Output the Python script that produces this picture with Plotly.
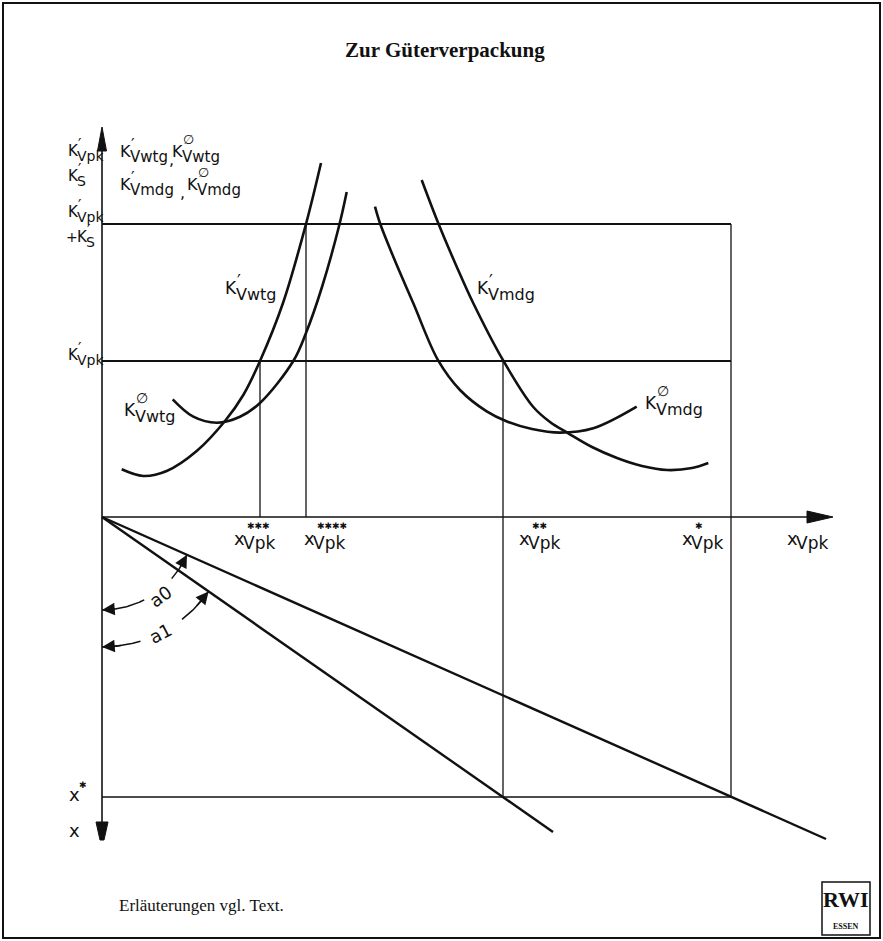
import math
import plotly.graph_objects as go

# ---------------- data (1 unit = 1 px of the original) ----------------
K_VPK = 156            # level K'_Vpk
K_VPK_S = 293          # level K'_Vpk + K'_S
X_3STAR = 158          # x***_Vpk
X_4STAR = 204          # x****_Vpk
X_2STAR = 401          # x**_Vpk
X_1STAR = 629          # x*_Vpk
X_STAR_DOWN = -280     # x* on the downward x axis
Y_AXIS_TOP = 390
X_AXIS_END = 731
DOWN_AXIS_END = -323

# K'_Vwtg (marginal, weight-dependent)
wtg_marg_x = [19.7, 41.3, 64.7, 94.7, 123, 141.3, 158, 181, 204, 219]
wtg_marg_y = [47.7, 41, 46, 66, 96, 122, 156, 214, 293, 354]
# K^0_Vwtg (average, weight-dependent)
wtg_avg_x = [70.7, 91.3, 114.7, 138, 158, 191.3, 204, 220, 237.3, 244.7]
wtg_avg_y = [117.7, 100.3, 94.3, 100.3, 114, 156, 184, 230, 292, 325]
# K'_Vmdg (marginal, volume-dependent)
mdg_marg_x = [319.7, 336.3, 354.7, 371.3, 401.3, 431.3, 448, 466.3, 490, 515, 540, 565, 590, 606.3]
mdg_marg_y = [337, 293.7, 250.3, 213.7, 156.3, 110, 95, 83.7, 70, 59, 51, 47, 49, 54]
# K^0_Vmdg (average, volume-dependent)
mdg_avg_x = [273, 278, 291.3, 311.3, 336.3, 358, 384.7, 405, 430, 458, 491.3, 534.7]
mdg_avg_y = [310.3, 293.7, 260.3, 213.7, 156.3, 127, 105.6, 95.5, 88, 84.4, 88.7, 110.3]

# rays in the lower quadrant (angles a0, a1)
ray_a0_x = [0, 724]
ray_a0_y = [0, -322]
ray_a1_x = [0, 451]
ray_a1_y = [0, -315]
ARC_A0_R = 93
ARC_A1_R = 130
ARC_A0_GAP = (-63, -41.5)     # degrees, where the label "a0" sits
ARC_A1_GAP = (-72.8, -52)

INK = "#111111"
LBL_FONT = "DejaVu Sans"
SERIF = "Liberation Serif"

W, H = 883, 941
OX, OY = 102, 517   # pixel position of the origin

fig = go.Figure()


def line(xs, ys, width=1.6, shape="linear"):
    fig.add_trace(go.Scatter(x=xs, y=ys, mode="lines", hoverinfo="skip", showlegend=False,
                             line=dict(color=INK, width=width, shape=shape, smoothing=1.0)))


def poly(xs, ys):
    fig.add_trace(go.Scatter(x=xs, y=ys, mode="lines", fill="toself", fillcolor=INK,
                             hoverinfo="skip", showlegend=False, line=dict(color=INK, width=1)))


# axes
line([0, 0], [DOWN_AXIS_END + 10, Y_AXIS_TOP - 10], width=1.6)
line([0, X_AXIS_END - 10], [0, 0], width=1.6)
# arrowheads of the axes
poly([-4.5, 0, 4.5, -4.5], [Y_AXIS_TOP - 24, Y_AXIS_TOP, Y_AXIS_TOP - 24, Y_AXIS_TOP - 24])
poly([X_AXIS_END - 26, X_AXIS_END, X_AXIS_END - 26, X_AXIS_END - 26], [-6, 0, 6, -6])
poly([-6, -2, 2, 6, -6], [DOWN_AXIS_END + 18, DOWN_AXIS_END, DOWN_AXIS_END, DOWN_AXIS_END + 18,
                          DOWN_AXIS_END + 18])

# horizontal levels
line([0, X_1STAR], [K_VPK_S, K_VPK_S], width=1.8)
line([0, X_1STAR], [K_VPK, K_VPK], width=1.8)
line([0, X_1STAR], [X_STAR_DOWN, X_STAR_DOWN], width=1.3)
# verticals
line([X_1STAR, X_1STAR], [K_VPK_S, X_STAR_DOWN], width=1.3)
line([X_3STAR, X_3STAR], [0, K_VPK], width=1.3)
line([X_4STAR, X_4STAR], [0, K_VPK_S], width=1.3)
line([X_2STAR, X_2STAR], [K_VPK, X_STAR_DOWN], width=1.3)

# cost curves
line(wtg_marg_x, wtg_marg_y, width=2.6, shape="spline")
line(wtg_avg_x, wtg_avg_y, width=2.6, shape="spline")
line(mdg_marg_x, mdg_marg_y, width=2.6, shape="spline")
line(mdg_avg_x, mdg_avg_y, width=2.6, shape="spline")

# rays
line(ray_a0_x, ray_a0_y, width=2.4)
line(ray_a1_x, ray_a1_y, width=2.4)

ann = []


def arc(r, a_start, a_end, gap):
    n = 30
    for lo, hi in ((a_start, gap[0]), (gap[1], a_end)):
        ts = [math.radians(lo + (hi - lo) * i / n) for i in range(n + 1)]
        line([r * math.cos(t) for t in ts], [r * math.sin(t) for t in ts], width=1.5)
    for head, tail in ((a_start, a_start + 9), (a_end, a_end - 9)):
        h, t = math.radians(head), math.radians(tail)
        ann.append(dict(x=r * math.cos(h), y=r * math.sin(h), ax=r * math.cos(t), ay=r * math.sin(t),
                        xref="x", yref="y", axref="x", ayref="y", text="", showarrow=True,
                        arrowhead=2, arrowsize=1.7, arrowwidth=1.5, arrowcolor=INK, standoff=0))


ang_a0 = math.degrees(math.atan2(ray_a0_y[1], ray_a0_x[1]))
ang_a1 = math.degrees(math.atan2(ray_a1_y[1], ray_a1_x[1]))
arc(ARC_A0_R, -90, ang_a0, ARC_A0_GAP)
arc(ARC_A1_R, -90, ang_a1, ARC_A1_GAP)


def txt(x, y, s, size=18, xs=0, ys=0, xanchor="left", angle=0, font=LBL_FONT, ref="data"):
    d = dict(x=x, y=y, text=s, showarrow=False, xanchor=xanchor, yanchor="middle",
             xshift=xs, yshift=ys, textangle=angle, font=dict(family=font, size=size, color=INK))
    if ref == "data":
        d.update(xref="x", yref="y")
    else:
        d.update(xref="paper", yref="paper")
    ann.append(d)


def klabel(x, y, sub, mark="prime", size=17, subsize=16):
    kw = 0.62 * size
    txt(x, y, "K", size)
    txt(x, y, sub, subsize, xs=kw, ys=-0.36 * size)
    if mark == "prime":
        txt(x, y, "′", size, xs=kw + 1, ys=0.42 * size)
    elif mark == "avg":
        txt(x, y, "∅", size - 3, xs=kw + 1, ys=0.72 * size)


def xlabel(x, y, stars, size=18):
    txt(x, y, "x", size)
    txt(x, y, "Vpk", size - 1, xs=9, ys=-5)
    if stars:
        txt(x, y, "✱" * stars, 9, xs=13, ys=12)


# curve labels
klabel(121, 229, "Vwtg")
klabel(20, 107, "Vwtg", mark="avg")
klabel(373, 229, "Vmdg")
klabel(541, 114, "Vmdg", mark="avg")

# axis title (right of vertical axis)
klabel(16, 366, "Vwtg", size=16, subsize=15)
txt(65, 358, ",", 16)
klabel(68, 366, "Vwtg", mark="avg", size=16, subsize=15)
klabel(16, 333, "Vmdg", size=16, subsize=15)
txt(76, 325, ",", 16)
klabel(83, 333, "Vmdg", mark="avg", size=16, subsize=15)

# labels left of the vertical axis
klabel(-36, 366, "Vpk", size=15, subsize=14)
klabel(-36, 341, "S", size=15, subsize=14)
klabel(-36, 305, "Vpk", size=15, subsize=14)
txt(-38, 280, "+", 14)
klabel(-27, 280, "S", size=15, subsize=14)
klabel(-36, 162, "Vpk", size=15, subsize=14)

# x-axis labels
xlabel(130, -21, 3)
xlabel(200, -21, 4)
xlabel(415, -21, 2)
xlabel(578, -21, 1)
xlabel(683, -21, 0)

# downward axis labels
txt(-35, -277, "x", 18)
txt(-35, -277, "✱", 9, xs=10, ys=9)
txt(-35, -313, "x", 18)

# angle labels
txt(58, -79, "a0", 18, xanchor="center", angle=-36)
txt(58, -116, "a1", 18, xanchor="center", angle=-27)

# decoration (paper coordinates)
txt(445 / W, 1 - 50 / H, "<b>Zur Güterverpackung</b>", 21, xanchor="center", font=SERIF, ref="paper")
txt(117 / W, 1 - 905 / H, "Erläuterungen vgl. Text.", 17, font=SERIF, ref="paper")
txt(846 / W, 1 - 899 / H, "<b>RWI</b>", 22, xanchor="center", font=SERIF, ref="paper")
txt(846 / W, 1 - 926 / H, "<b>ESSEN</b>", 8, xanchor="center", font=SERIF, ref="paper")

shapes = [
    dict(type="rect", xref="paper", yref="paper", x0=3 / W, x1=880 / W, y0=1 - 938 / H, y1=1 - 3 / H,
         line=dict(color=INK, width=2)),
    dict(type="rect", xref="paper", yref="paper", x0=822 / W, x1=870 / W, y0=1 - 935 / H, y1=1 - 882 / H,
         line=dict(color=INK, width=1.5)),
]

fig.update_layout(
    width=W, height=H, margin=dict(l=0, r=0, t=0, b=0),
    paper_bgcolor="white", plot_bgcolor="white",
    xaxis=dict(range=[-OX, W - OX], visible=False, fixedrange=True),
    yaxis=dict(range=[OY - H, OY], visible=False, fixedrange=True),
    annotations=ann, shapes=shapes, showlegend=False,
)

fig.write_html("out.html", config={"displayModeBar": False, "staticPlot": True},
               post_script="document.body.style.margin='0';")
